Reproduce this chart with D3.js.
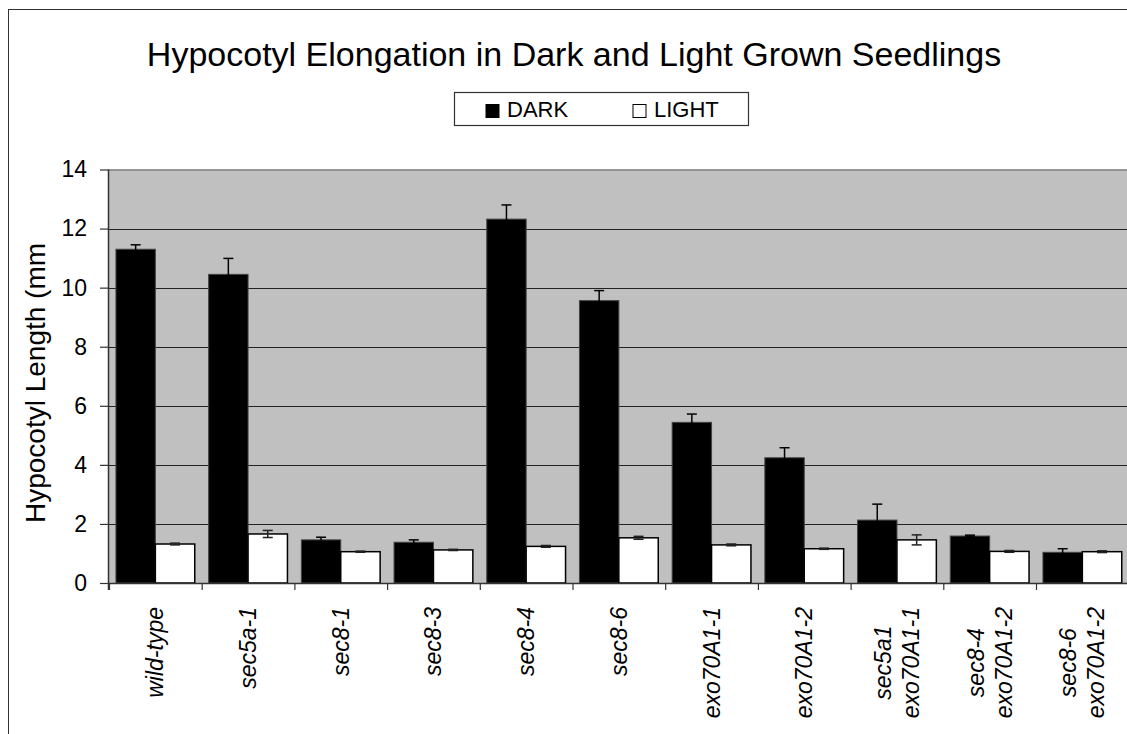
<!DOCTYPE html>
<html><head><meta charset="utf-8">
<script src="https://cdn.jsdelivr.net/npm/d3@7"></script>
<style>
html,body{margin:0;padding:0;background:#fff;overflow:hidden;}
svg{display:block;font-family:"Liberation Sans",Arial,sans-serif;}
</style></head>
<body><svg id="c" width="1127" height="734"></svg>
<script>
const categories = ["wild-type","sec5a-1","sec8-1","sec8-3","sec8-4","sec8-6","exo70A1-1","exo70A1-2","sec5a1\nexo70A1-1","sec8-4\nexo70A1-2","sec8-6\nexo70A1-2"];
const dark = [11.30,10.45,1.46,1.38,12.32,9.56,5.44,4.24,2.13,1.59,1.04];
const darkErr = [0.15,0.54,0.09,0.08,0.48,0.34,0.28,0.34,0.54,0.03,0.12];
const light = [1.32,1.66,1.06,1.12,1.24,1.53,1.29,1.16,1.46,1.07,1.06];
const lightErr = [0.03,0.12,0.02,0.02,0.03,0.05,0.03,0.02,0.17,0.03,0.03];
const yTicks = [0,2,4,6,8,10,12,14];
const seriesNames = ["DARK","LIGHT"];
const titleText = "Hypocotyl Elongation in Dark and Light Grown Seedlings";
const yTitle = "Hypocotyl Length (mm";

const svg = d3.select("#c");
const L = 109, R = 1128.7, T = 169.5, B = 583;

// outer frame (extends past the right/bottom edge as in the reference)
svg.append("rect").attr("x",8.5).attr("y",9.5).attr("width",1300).attr("height",1000)
  .attr("fill","#fff").attr("stroke","#333").attr("stroke-width",1);

const x = d3.scaleBand().domain(categories).range([L,R]).paddingInner(0.15).paddingOuter(0.075);
const xi = d3.scaleLinear().domain([0,categories.length]).range([L,R]);
const y = d3.scaleLinear().domain([0,14]).range([B,T]);

// plot background
svg.append("rect").attr("x",L).attr("y",T).attr("width",R-L).attr("height",B-T).attr("fill","#c0c0c0");
svg.append("line").attr("x1",L).attr("x2",R).attr("y1",T+0.5).attr("y2",T+0.5).attr("stroke","#808080").attr("stroke-width",1.5);

// gridlines
svg.append("g").selectAll("line").data(yTicks.filter(d=>d>0 && d<14)).join("line")
  .attr("x1",L).attr("x2",R).attr("y1",d=>Math.round(y(d))+0.5).attr("y2",d=>Math.round(y(d))+0.5)
  .attr("stroke","#222").attr("stroke-width",1.2);

const bw = x.bandwidth()/2;
// bars
svg.append("g").selectAll("rect").data(categories).join("rect")
  .attr("x",d=>x(d)).attr("width",bw)
  .attr("y",(d,i)=>y(dark[i])).attr("height",(d,i)=>B-y(dark[i]))
  .attr("fill","#000").attr("stroke","#444").attr("stroke-width",1);
svg.append("g").selectAll("rect").data(categories).join("rect")
  .attr("x",d=>x(d)+bw).attr("width",bw)
  .attr("y",(d,i)=>y(light[i])).attr("height",(d,i)=>B-y(light[i]))
  .attr("fill","#fff").attr("stroke","#000").attr("stroke-width",1.5);

// error bars
function errBars(vals, errs, off, col){
  const g = svg.append("g").attr("stroke",col).attr("stroke-width",1.5);
  categories.forEach((c,i)=>{
    const cx = x(c)+off+bw/2;
    const y1 = y(vals[i]+errs[i]), y2 = y(vals[i]-errs[i]);
    g.append("line").attr("x1",cx).attr("x2",cx).attr("y1",y1).attr("y2",y2);
    g.append("line").attr("x1",cx-5).attr("x2",cx+5).attr("y1",y1).attr("y2",y1);
    g.append("line").attr("x1",cx-5).attr("x2",cx+5).attr("y1",y2).attr("y2",y2);
  });
}
errBars(dark,darkErr,0,"#000");
errBars(light,lightErr,bw,"#222");

// y axis
const ya = svg.append("g").attr("transform",`translate(${L},0)`)
  .call(d3.axisLeft(y).tickValues(yTicks).tickSize(9).tickPadding(13).tickFormat(d3.format("d")));
ya.select(".domain").attr("stroke","#333").attr("stroke-width",1.5).attr("d",`M-0.5,${T}V${B+7}`);
ya.selectAll(".tick line").attr("stroke","#333").attr("stroke-width",1.2);
ya.selectAll(".tick text").attr("fill","#000").style("font-size","23px").style("font-family","Liberation Sans, Arial, sans-serif");

// x axis (ticks at category boundaries)
const xa = svg.append("g").attr("transform",`translate(0,${B})`)
  .call(d3.axisBottom(xi).tickValues(d3.range(categories.length+1)).tickSize(7).tickFormat(""));
xa.select(".domain").attr("stroke","#333").attr("stroke-width",1.5).attr("d",`M${L},0.5H${R}`);
xa.selectAll(".tick line").attr("stroke","#333").attr("stroke-width",1.2);

// x labels (rotated, italic)
const lg = svg.append("g");
categories.forEach((c)=>{
  const lines = c.split("\n");
  const cx = x(c)+x.bandwidth()/2;
  const g = lg.append("g");
  const ts = lines.map((ln,k)=> g.append("text").text(ln)
    .style("font-size","23px").style("font-style","italic").attr("fill","#000")
    .attr("text-anchor","middle"));
  const maxL = d3.max(ts, t=>t.node().getComputedTextLength());
  const n = lines.length, lh = 28;
  ts.forEach((t,k)=>{
    const off = (k - (n-1)/2)*lh;
    const px = cx + off + 8;
    const py = 607 + maxL/2;
    t.attr("transform",`translate(${px},${py}) rotate(-90)`);
  });
});

// title
svg.append("text").attr("x",574).attr("y",66).attr("text-anchor","middle")
  .style("font-size","34px").attr("fill","#000").text(titleText);

// y title
svg.append("text").attr("transform","translate(45,383) rotate(-90)").attr("text-anchor","middle")
  .style("font-size","28px").attr("fill","#000").text(yTitle);

// legend
const leg = svg.append("g");
leg.append("rect").attr("x",454.5).attr("y",92.5).attr("width",294).attr("height",33)
  .attr("fill","#fff").attr("stroke","#333").attr("stroke-width",1.2);
const legX = [486, 633];
seriesNames.forEach((s,i)=>{
  leg.append("rect").attr("x",legX[i]).attr("y",104.5).attr("width",13).attr("height",13)
    .attr("fill", i===0?"#000":"#fff").attr("stroke","#000").attr("stroke-width",1);
  leg.append("text").attr("x",legX[i]+21).attr("y",117).style("font-size","22px").attr("fill","#000").text(s);
});
</script></body></html>
